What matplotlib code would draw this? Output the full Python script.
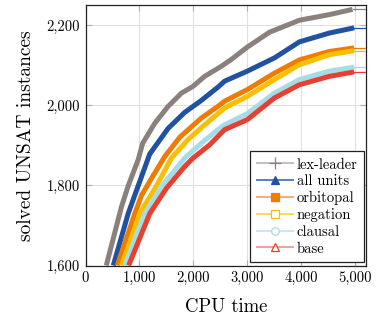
import matplotlib
matplotlib.use("Agg")
import matplotlib.pyplot as plt
from matplotlib.lines import Line2D
from matplotlib.ticker import FuncFormatter, MultipleLocator

plt.rcParams['font.family'] = ['cmr10', 'DejaVu Serif']
plt.rcParams['axes.formatter.use_mathtext'] = True
plt.rcParams['mathtext.fontset'] = 'cm'

# data (CPU time, solved instances)
labels = ["lex-leader", "all units", "orbitopal", "negation", "clausal", "base"]

lex_t = [385, 668, 792, 977, 1060, 1285, 1531, 1778, 1993, 2209, 2517, 2702, 3000, 3410, 3965, 4519, 4950]
lex_v = [1600, 1747, 1799, 1864, 1905, 1955, 1997, 2030, 2047, 2072, 2097, 2114, 2145, 2182, 2212, 2226, 2239]

all_t = [515, 792, 977, 1190, 1531, 1839, 2148, 2455, 2579, 3000, 3503, 3965, 4519, 4980]
all_v = [1600, 1730, 1799, 1878, 1942, 1982, 2012, 2045, 2060, 2085, 2118, 2158, 2180, 2193]

orb_t = [590, 915, 1039, 1200, 1470, 1747, 2148, 2455, 2579, 3000, 3503, 3965, 4519, 4980]
orb_v = [1600, 1730, 1775, 1812, 1872, 1920, 1968, 1997, 2010, 2039, 2080, 2113, 2134, 2143]

neg_t = [668, 1007, 1316, 1593, 1900, 2209, 2579, 3000, 3503, 3965, 4519, 4980]
neg_v = [1600, 1730, 1799, 1868, 1914, 1951, 1993, 2022, 2064, 2101, 2126, 2136]

cla_t = [730, 1100, 1408, 1839, 2148, 2455, 2579, 3000, 3503, 3965, 4519, 4980]
cla_v = [1600, 1730, 1797, 1868, 1905, 1939, 1951, 1979, 2030, 2064, 2085, 2095]

base_t = [800, 1192, 1501, 1839, 1993, 2301, 2579, 3000, 3503, 3965, 4519, 4980]
base_v = [1600, 1730, 1793, 1847, 1868, 1901, 1939, 1964, 2018, 2051, 2072, 2083]

x_max = 5200
y_min, y_max = 1600, 2250

series = [(lex_t, lex_v), (all_t, all_v), (orb_t, orb_v), (neg_t, neg_v), (cla_t, cla_v), (base_t, base_v)]
colors = ["#8a817c", "#2151a1", "#ef7c00", "#f8bf00", "#a6dce5", "#e64032"]
light = ["#c4bfbb", "#5a7fbf", "#f7b070", "#fbd860", "#c6e9ef", "#f2a09a"]
markers = ["+", "^", "s", "s", "o", "^"]
filled = [True, True, True, False, False, False]

fig = plt.figure(figsize=(3.89, 3.27), dpi=100)
ax = fig.add_axes([85.5/389, 1-265.5/327, (366-85.5)/389, (265.5-5)/327])

for (t, v), c in zip(series, colors):
    ax.plot(t, v, color=c, lw=3.6, solid_capstyle='butt', zorder=3)
    ax.plot([t[-1], x_max], [v[-1], v[-1]], color=c, lw=0.9, zorder=3)

ax.set_xlim(0, x_max)
ax.set_ylim(y_min, y_max)
ax.xaxis.set_major_locator(MultipleLocator(1000))
ax.yaxis.set_major_locator(MultipleLocator(200))
fmt = FuncFormatter(lambda x, p: "{:,.0f}".format(x))
ax.xaxis.set_major_formatter(fmt)
ax.yaxis.set_major_formatter(fmt)
ax.grid(True, color="#e0e0e0", lw=0.8, zorder=0)
ax.set_axisbelow(True)
ax.tick_params(direction='in', length=4, color="#b0b0b0", labelsize=10.5, pad=4,
               top=True, right=True)
for s in ax.spines.values():
    s.set_linewidth(0.9)
    s.set_color("#222222")

ax.set_xlabel("CPU time", fontsize=13.5, labelpad=9)
ax.set_ylabel("solved UNSAT instances", fontsize=14, labelpad=8)

handles = []
for lab, c, lc, m, f in zip(labels, colors, light, markers, filled):
    handles.append(Line2D([0], [0], color=lc, lw=1.4, marker=m,
                          markersize=5.5 if m != "+" else 8,
                          markerfacecolor=c if f else "white",
                          markeredgecolor=c, markeredgewidth=0.9, label=lab))
leg = ax.legend(handles=handles, loc='lower right', bbox_to_anchor=(0.993, 0.013),
                fontsize=10.5, frameon=True, fancybox=False, handlelength=2.5,
                handletextpad=0.25, labelspacing=0.2, borderpad=0.45, borderaxespad=0)
leg.get_frame().set_edgecolor("#222222")
leg.get_frame().set_linewidth(0.9)
leg.get_frame().set_alpha(1)

fig.savefig("out.png", dpi=100)
